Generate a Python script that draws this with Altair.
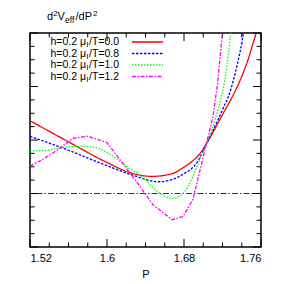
import altair as alt
import pandas as pd

# ---- data ----
SERIES = ["0.0", "0.8", "1.0", "1.2"]
COLORS = ["#ff0000", "#0000ff", "#00ff00", "#ff00ff"]
DASHES = [[1, 0], [2.5, 1.5], [1.5, 1.5], [4, 1.5, 1.5, 1.5]]

P_RED = [1.52, 1.5584, 1.60, 1.6239, 1.6468, 1.6675, 1.6779, 1.6883, 1.6945, 1.7039,
         1.7112, 1.7195, 1.7288, 1.7382, 1.7465, 1.7538, 1.7569]
V_RED = [1.36, 0.98, 0.58, 0.39, 0.32, 0.37, 0.47, 0.60, 0.70, 0.95,
         1.18, 1.46, 1.76, 2.11, 2.50, 2.93, 3.10]

P_BLUE = [1.52, 1.5584, 1.60, 1.627, 1.653, 1.6675, 1.679, 1.6935, 1.7039, 1.7101,
          1.7164, 1.7216, 1.7257, 1.7309, 1.7361, 1.7403, 1.7423]
V_BLUE = [1.07, 0.82, 0.52, 0.34, 0.22, 0.26, 0.36, 0.58, 0.95, 1.18,
          1.42, 1.63, 1.79, 2.09, 2.47, 2.84, 3.07]

P_GREEN = [1.52, 1.5335, 1.5584, 1.5751, 1.5855, 1.60, 1.6208, 1.6374, 1.652, 1.6675,
           1.6779, 1.6893, 1.6966, 1.7039, 1.7081, 1.7122, 1.7153, 1.7184, 1.7216,
           1.7247, 1.7278, 1.7288]
V_GREEN = [0.80, 0.80, 0.87, 0.88, 0.87, 0.77, 0.50, 0.30, 0.04, -0.09,
           -0.02, 0.32, 0.64, 0.95, 1.14, 1.38, 1.57, 1.78, 2.04,
           2.41, 2.88, 3.07]

P_MAG = [1.52, 1.5335, 1.549, 1.5647, 1.5803, 1.60, 1.6187, 1.6343, 1.6478, 1.6675,
         1.679, 1.6893, 1.7018, 1.7101, 1.7148, 1.72, 1.721]
V_MAG = [0.51, 0.64, 0.82, 1.03, 1.07, 0.95, 0.51, 0.13, -0.21, -0.49,
         -0.43, -0.11, 0.82, 1.44, 2.04, 3.01, 3.16]

X_LABELS = [1.52, 1.6, 1.68, 1.76]
X_MINOR = [1.54, 1.56, 1.58, 1.62, 1.64, 1.66, 1.70, 1.72, 1.74]
Y_MAJOR = [-1, 0, 1, 2, 3]
Y_MINOR = [-0.75, -0.5, -0.25, 0.25, 0.5, 0.75, 1.25, 1.5, 1.75, 2.25, 2.5, 2.75]

frames = []
for s, P, V in zip(SERIES, [P_RED, P_BLUE, P_GREEN, P_MAG], [V_RED, V_BLUE, V_GREEN, V_MAG]):
    frames.append(pd.DataFrame({"P": P, "V": V, "s": s}))
df = pd.concat(frames, ignore_index=True)

FONT = "Liberation Sans"
W, H = 231, 214

xscale = alt.Scale(domain=[1.52, 1.76], nice=False, zero=False)
yscale = alt.Scale(domain=[-1, 3], nice=False, zero=False)
xaxis = alt.Axis(values=X_LABELS, format="~g", ticks=False, tickSize=0, domain=False,
                 grid=False, labelPadding=5, titlePadding=5)

color = alt.Color("s:N", scale=alt.Scale(domain=SERIES, range=COLORS), legend=None)
dash = alt.StrokeDash("s:N", scale=alt.Scale(domain=SERIES, range=DASHES), legend=None)

X = lambda f: alt.X(f, scale=xscale, axis=xaxis, title="P")
Y = lambda f: alt.Y(f, scale=yscale, axis=None)

smooth = alt.Chart(df[df.s != "1.2"]).mark_line(
    interpolate="monotone", clip=True, strokeWidth=1.3
).encode(x=X("P:Q"), y=Y("V:Q"), color=color, strokeDash=dash)

mag = alt.Chart(df[df.s == "1.2"]).mark_line(clip=True, strokeWidth=1.3).encode(
    x=X("P:Q"), y=Y("V:Q"), color=color, strokeDash=dash)

zero = alt.Chart(pd.DataFrame({"z": [0]})).mark_rule(
    color="black", strokeWidth=0.8, strokeDash=[6, 2, 1.5, 2]
).encode(y=Y("z:Q"))

xmin = pd.DataFrame({"t": X_MINOR})
xmaj = pd.DataFrame({"t": X_LABELS})
ymin = pd.DataFrame({"t": Y_MINOR})
ymaj = pd.DataFrame({"t": Y_MAJOR})

tick = dict(color="black", strokeWidth=1)
ticks = [
    alt.Chart(xmin).mark_rule(**tick).encode(x=X("t:Q"), y=alt.value(H), y2=alt.value(H - 4.5)),
    alt.Chart(xmaj).mark_rule(**tick).encode(x=X("t:Q"), y=alt.value(H), y2=alt.value(H - 8)),
    alt.Chart(xmin).mark_rule(**tick).encode(x=X("t:Q"), y=alt.value(0), y2=alt.value(4.5)),
    alt.Chart(xmaj).mark_rule(**tick).encode(x=X("t:Q"), y=alt.value(0), y2=alt.value(8)),
    alt.Chart(ymin).mark_rule(**tick).encode(y=Y("t:Q"), x=alt.value(0), x2=alt.value(4.5)),
    alt.Chart(ymaj).mark_rule(**tick).encode(y=Y("t:Q"), x=alt.value(0), x2=alt.value(8)),
    alt.Chart(ymin).mark_rule(**tick).encode(y=Y("t:Q"), x=alt.value(W), x2=alt.value(W - 4.5)),
    alt.Chart(ymaj).mark_rule(**tick).encode(y=Y("t:Q"), x=alt.value(W), x2=alt.value(W - 8)),
]

# ---- manual legend ----
ldf = pd.DataFrame({"s": SERIES, "a": ["h=0.2 μ"] * 4, "b": ["I"] * 4,
                    "c": ["/T=" + s for s in SERIES]})
ly = alt.Y("s:N", scale=alt.Scale(type="point", domain=SERIES, range=[9, 43.5], padding=0),
           axis=None)
leg_line = alt.Chart(ldf).mark_rule(strokeWidth=1.3).encode(
    x=alt.value(102), x2=alt.value(133), y=ly, color=color, strokeDash=dash)
leg_a = alt.Chart(ldf).mark_text(align="right", baseline="middle", font=FONT, fontSize=10.5,
                                 color="black").encode(x=alt.value(56), y=ly, text="a:N")
leg_b = alt.Chart(ldf).mark_text(align="left", baseline="middle", font=FONT, fontSize=8,
                                 dy=3, color="black").encode(x=alt.value(56.3), y=ly, text="b:N")
leg_c = alt.Chart(ldf).mark_text(align="left", baseline="middle", font=FONT, fontSize=10.5,
                                 color="black").encode(x=alt.value(59), y=ly, text="c:N")

# ---- y label (top-left) ----
def label(txt, x, y, size):
    return alt.Chart(pd.DataFrame({"t": [txt]})).mark_text(
        align="left", baseline="alphabetic", font=FONT, fontSize=size, color="black"
    ).encode(x=alt.value(x), y=alt.value(y), text="t:N")

title_parts = [label("d", 17, -13, 11), label("2", 23.3, -17.5, 8),
               label("V", 27.5, -13, 11), label("eff", 35, -10, 8.5),
               label("/dP", 45.5, -13, 11), label("2", 63, -17.5, 8)]

chart = alt.layer(
    zero, *ticks, smooth, mag, leg_line, leg_a, leg_b, leg_c, *title_parts
).resolve_scale(y="independent").properties(
    width=W, height=H, autosize=alt.AutoSizeParams(type="none"),
    padding={"left": 22, "top": 25, "right": 15, "bottom": 35}, background="white"
).configure_view(stroke="black", strokeWidth=1.5).configure_axis(
    labelFont=FONT, titleFont=FONT, labelFontSize=11, titleFontSize=11,
    labelColor="black", titleColor="black", titleFontWeight="normal"
)

chart.save("out.html", embed_options={"renderer": "svg", "actions": False})
